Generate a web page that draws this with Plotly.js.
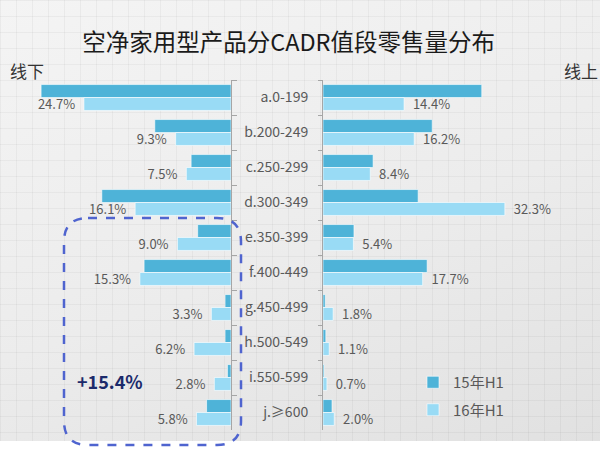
<!DOCTYPE html>
<html>
<head>
<meta charset="utf-8">
<script src="https://cdn.plot.ly/plotly-3.0.1.min.js"></script>
<style>
    body { margin: 0; background: #ffffff; }
    #bg {
        position: absolute; left: 0; top: 0; width: 600px; height: 441px;
        background:
            linear-gradient(rgba(0,0,0,0.04) 1px, transparent 1px) 0 0 / 16px 16px,
            linear-gradient(90deg, rgba(0,0,0,0.04) 1px, transparent 1px) 0 0 / 16px 16px,
            linear-gradient(160deg, #f4f4f4 0%, #ececec 55%, #e1e1e1 100%);
    }
    #chart { position: absolute; left: 0; top: 0; width: 600px; height: 451px; }
</style>
</head>
<body>
<div id="bg"></div>
<div id="chart"></div>
<script>
const categories = ["a.0-199", "b.200-249", "c.250-299", "d.300-349", "e.350-399",
    "f.400-449", "g.450-499", "h.500-549", "i.550-599", "j.≥600"];
const offline15 = [31.9, 12.8, 6.7, 21.7, 5.6, 14.6, 1.0, 1.0, 0.6, 4.1];
const offline16 = [24.7, 9.3, 7.5, 16.1, 9.0, 15.3, 3.3, 6.2, 2.8, 5.8];
const online15 = [28.2, 19.4, 8.9, 16.9, 5.5, 18.5, 0.4, 0.5, 0.2, 1.6];
const online16 = [14.4, 16.2, 8.4, 32.3, 5.4, 17.7, 1.8, 1.1, 0.7, 2.0];
const seriesNames = ["15年H1", "16年H1"];

const W = 600;
const PLOT_TOP = 80;
const PLOT_BOTTOM = 430;
const px = (x) => x / W;
const py = (y) => (PLOT_BOTTOM - y) / (PLOT_BOTTOM - PLOT_TOP);

const color15 = "#4eb3d8";
const color16 = "#99dbf5";
const labelColor = "#595959";
const font = "'Noto Sans CJK SC', 'Noto Sans', sans-serif";

function barTrace(values, name, color, xaxis, yaxis, withText, showlegend) {
    const trace = {
        type: "bar",
        orientation: "h",
        x: values,
        y: categories,
        name: name,
        legendgroup: name,
        showlegend: showlegend,
        xaxis: xaxis,
        yaxis: yaxis,
        marker: { color: color, line: { color: "rgba(255,255,255,0.6)", width: 1 } },
        hoverinfo: "skip",
    };
    if (withText) {
        trace.text = values.map((v) => v.toFixed(1) + "%");
        trace.texttemplate = "  %{text}  ";
        trace.textposition = "outside";
        trace.constraintext = "none";
        trace.cliponaxis = false;
        trace.textfont = { size: 13, color: labelColor, family: font };
    }
    return trace;
}

// rounded dashed box, drawn in pixels and converted to paper units
function roundedBox(x0, y0, x1, y1, r) {
    return "M" + px(x0 + r) + "," + py(y0)
        + " L" + px(x1 - r) + "," + py(y0)
        + " Q" + px(x1) + "," + py(y0) + " " + px(x1) + "," + py(y0 + r)
        + " L" + px(x1) + "," + py(y1 - r)
        + " Q" + px(x1) + "," + py(y1) + " " + px(x1 - r) + "," + py(y1)
        + " L" + px(x0 + r) + "," + py(y1)
        + " Q" + px(x0) + "," + py(y1) + " " + px(x0) + "," + py(y1 - r)
        + " L" + px(x0) + "," + py(y0 + r)
        + " Q" + px(x0) + "," + py(y0) + " " + px(x0 + r) + "," + py(y0) + " Z";
}

const data = [
    barTrace(offline15, seriesNames[0], color15, "x", "y", false, true),
    barTrace(offline16, seriesNames[1], color16, "x", "y", true, true),
    barTrace(online15, seriesNames[0], color15, "x2", "y2", false, false),
    barTrace(online16, seriesNames[1], color16, "x2", "y2", true, false),
];

const axisY = {
    type: "category",
    autorange: "reversed",
    showline: true,
    linecolor: "#a6a6a6",
    linewidth: 1,
    ticks: "outside",
    tickcolor: "#a6a6a6",
    tickson: "boundaries",
    showgrid: false,
    zeroline: false,
    fixedrange: true,
};

const layout = {
    width: 600,
    height: 451,
    margin: { l: 0, r: 0, t: PLOT_TOP, b: 451 - PLOT_BOTTOM },
    paper_bgcolor: "rgba(0,0,0,0)",
    plot_bgcolor: "rgba(0,0,0,0)",
    font: { family: font, color: labelColor, size: 13 },
    barmode: "group",
    bargap: 0.26,
    bargroupgap: 0,
    title: {
        text: "空净家用型产品分CADR值段零售量分布",
        font: { size: 23.5, color: "#1a1a1a", family: font },
        x: 0.481,
        xanchor: "center",
        y: 1 - 43 / 451,
        yanchor: "middle",
        yref: "container",
    },
    xaxis: {
        domain: [0, px(231)],
        range: [38.8, 0],
        visible: false,
        fixedrange: true,
    },
    xaxis2: {
        domain: [px(323), 1],
        range: [0, 49.2],
        visible: false,
        fixedrange: true,
    },
    yaxis: Object.assign({}, axisY, {
        anchor: "x",
        side: "right",
        ticklen: 5,
        showticklabels: false,
    }),
    yaxis2: Object.assign({}, axisY, {
        anchor: "x2",
        side: "left",
        ticklen: 4,
        showticklabels: true,
        tickfont: { size: 14, color: labelColor, family: font },
        ticklabelstandoff: 11,
    }),
    legend: {
        x: px(413),
        xanchor: "left",
        y: py(366),
        yanchor: "top",
        bgcolor: "rgba(0,0,0,0)",
        font: { size: 15, color: labelColor, family: font },
        traceorder: "grouped",
        tracegroupgap: 5,
        itemclick: false,
        itemdoubleclick: false,
    },
    shapes: [
        {
            type: "path",
            xref: "paper",
            yref: "paper",
            path: roundedBox(64, 218, 241, 445, 24),
            line: { color: "#4f64cf", width: 2.5, dash: "dash" },
            fillcolor: "rgba(0,0,0,0)",
        },
    ],
    annotations: [
        {
            text: "线下",
            xref: "paper", yref: "paper",
            x: px(8), y: py(71),
            xanchor: "left", yanchor: "middle",
            showarrow: false,
            font: { size: 17, color: "#333333", family: font },
        },
        {
            text: "线上",
            xref: "paper", yref: "paper",
            x: px(600), y: py(71),
            xanchor: "right", yanchor: "middle",
            showarrow: false,
            font: { size: 17, color: "#333333", family: font },
        },
        {
            text: "<b>+15.4%</b>",
            xref: "paper", yref: "paper",
            x: px(110), y: py(381),
            xanchor: "center", yanchor: "middle",
            showarrow: false,
            font: { size: 18, color: "#1b2a6b", family: font },
        },
    ],
};

Plotly.newPlot("chart", data, layout, { displayModeBar: false, staticPlot: true });
</script>
</body>
</html>
